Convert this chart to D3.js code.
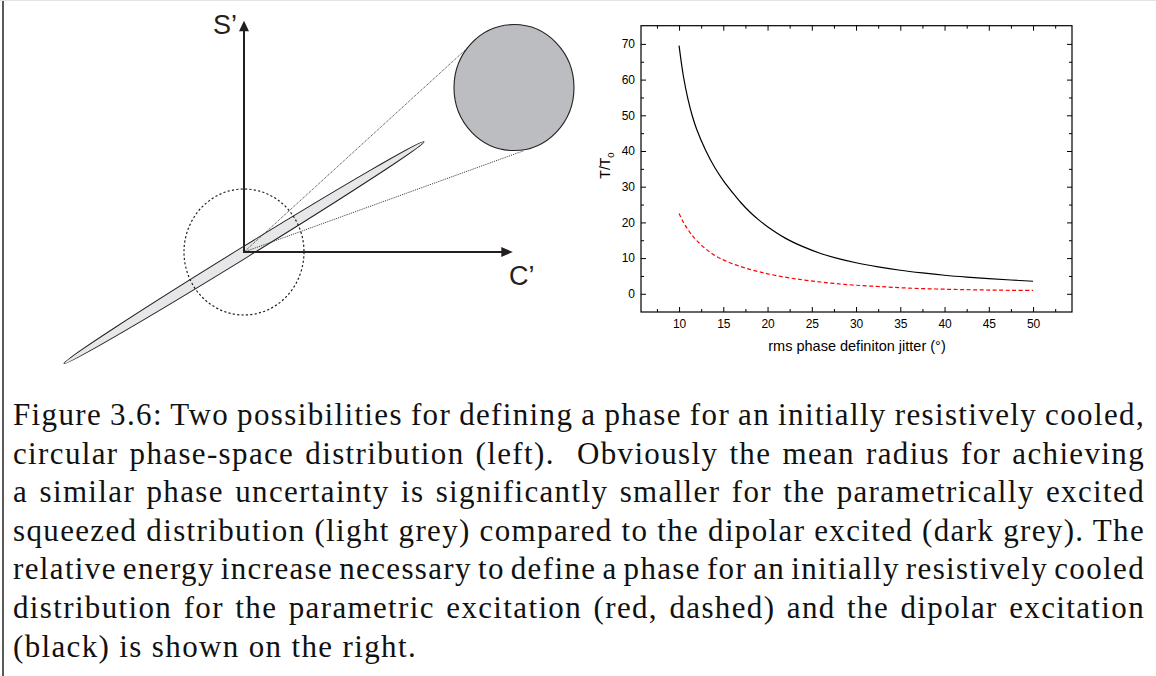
<!DOCTYPE html>
<html>
<head>
<meta charset="utf-8">
<script src="https://cdn.jsdelivr.net/npm/d3@7"></script>
<style>
body { margin: 0; background: #fff; }
</style>
</head>
<body>
<div id="fig"></div>
<script>
// values
var jitter     = [10, 10.5, 11, 11.5, 12, 13, 14, 15, 16, 17, 18, 19, 20, 22, 24, 26, 28, 30, 32.5, 35, 37.5, 40, 42.5, 45, 47.5, 50];
var dipolar    = [69.5, 60.8, 54.6, 49.8, 46.0, 40.2, 35.5, 31.7, 28.5, 25.5, 22.9, 20.7, 18.8, 15.6, 13.2, 11.3, 9.85, 8.7, 7.55, 6.6, 5.85, 5.2, 4.68, 4.25, 3.87, 3.52];
var parametric = [22.5, 20.0, 18.0, 16.3, 14.9, 12.6, 10.8, 9.5, 8.45, 7.6, 6.85, 6.2, 5.6, 4.65, 3.9, 3.3, 2.8, 2.4, 2.05, 1.7, 1.45, 1.28, 1.15, 1.05, 0.98, 0.95];
var xTicks = [10, 15, 20, 25, 30, 35, 40, 45, 50];
var xMinor = [7.5, 12.5, 17.5, 22.5, 27.5, 32.5, 37.5, 42.5, 47.5, 52.5];
var yTicks = [0, 10, 20, 30, 40, 50, 60, 70];
var yMinor = [5, 15, 25, 35, 45, 55, 65];

var captionLines = [
    "Figure 3.6: Two possibilities for defining a phase for an initially resistively cooled,",
    "circular phase-space distribution (left).  Obviously the mean radius for achieving",
    "a similar phase uncertainty is significantly smaller for the parametrically excited",
    "squeezed distribution (light grey) compared to the dipolar excited (dark grey). The",
    "relative energy increase necessary to define a phase for an initially resistively cooled",
    "distribution for the parametric excitation (red, dashed) and the dipolar excitation",
    "(black) is shown on the right."
];

var ink = "#231f20";
var svg = d3.select("#fig")
    .append("svg")
    .attr("width", 1156)
    .attr("height", 676);

// page edge
svg.append("line")
    .attr("x1", 3).attr("x2", 3).attr("y1", 0).attr("y2", 676)
    .attr("stroke", "#222").attr("stroke-width", 1.5);
svg.append("line")
    .attr("x1", 0).attr("x2", 1156).attr("y1", 0.5).attr("y2", 0.5)
    .attr("stroke", "#e4e4e4").attr("stroke-width", 1);

// ---------- left: phase space sketch (units: dashed circle radius = 1)
var sx = d3.scaleLinear().domain([0, 1]).range([244, 304]);
var sy = d3.scaleLinear().domain([0, 1]).range([252, 189]);
var rx = sx(1) - sx(0), ry = sy(0) - sy(1);

var squeezeTips = [[3.0, 1.75], [-3.0, -1.77]];
var squeezeWidth = 5.5;
var bigCircle = [4.5, 2.61];
var coneEnds = [[3.68, 3.2], [4.67, 1.61]];
var sTip = 3.67, cTip = 4.48;

var p1 = [sx(squeezeTips[0][0]), sy(squeezeTips[0][1])],
    p2 = [sx(squeezeTips[1][0]), sy(squeezeTips[1][1])];
var cx = (p1[0] + p2[0]) / 2, cy = (p1[1] + p2[1]) / 2;
var half = Math.hypot(p1[0] - p2[0], p1[1] - p2[1]) / 2;
var ang = Math.atan2(p1[1] - p2[1], p1[0] - p2[0]) * 180 / Math.PI;

svg.append("ellipse")
    .attr("transform", "translate(" + cx + "," + cy + ") rotate(" + ang + ")")
    .attr("rx", half).attr("ry", squeezeWidth)
    .attr("fill", "#e6e7e8").attr("stroke", ink).attr("stroke-width", 1);

svg.append("ellipse")
    .attr("cx", sx(0)).attr("cy", sy(0)).attr("rx", rx).attr("ry", ry)
    .attr("fill", "none").attr("stroke", ink).attr("stroke-width", 1.2)
    .attr("stroke-dasharray", "2.2,2.2");

svg.selectAll(".cone")
    .data(coneEnds)
    .enter()
    .append("line")
    .attr("x1", sx(0)).attr("y1", sy(0))
    .attr("x2", function(d) { return sx(d[0]); })
    .attr("y2", function(d) { return sy(d[1]); })
    .attr("stroke", ink).attr("stroke-width", 0.9)
    .attr("stroke-dasharray", "1,1");

svg.append("ellipse")
    .attr("cx", sx(bigCircle[0])).attr("cy", sy(bigCircle[1])).attr("rx", rx).attr("ry", ry)
    .attr("fill", "#bcbdc0").attr("stroke", ink).attr("stroke-width", 1.1);

// axes with arrow heads
svg.append("line")
    .attr("x1", sx(0)).attr("y1", sy(0)).attr("x2", sx(0)).attr("y2", sy(sTip) + 8)
    .attr("stroke", ink).attr("stroke-width", 2);
svg.append("line")
    .attr("x1", sx(0) - 1).attr("y1", sy(0)).attr("x2", sx(cTip) - 10).attr("y2", sy(0))
    .attr("stroke", ink).attr("stroke-width", 2);
svg.append("path")
    .attr("d", "M" + sx(0) + "," + sy(sTip) + "l5,10.5h-10z")
    .attr("fill", ink);
svg.append("path")
    .attr("d", "M" + sx(cTip) + "," + sy(0) + "l-11.5,-5v10z")
    .attr("fill", ink);

svg.append("text")
    .attr("x", 213).attr("y", 33.5)
    .style("font-family", "Liberation Sans, Arial, sans-serif")
    .style("font-size", "27px")
    .attr("fill", ink)
    .text("S\u2019");
svg.append("text")
    .attr("x", 509).attr("y", 285)
    .style("font-family", "Liberation Sans, Arial, sans-serif")
    .style("font-size", "27px")
    .attr("fill", ink)
    .text("C\u2019");

// ---------- right: T/T0 versus jitter
var x = d3.scaleLinear().domain([5.7, 54.4]).range([641, 1072]);
var y = d3.scaleLinear().domain([-5.1, 75.1]).range([312, 25.7]);
var font = "Liberation Sans, Arial, sans-serif";

function styleAxis(g) {
    g.select(".domain").remove();
    g.selectAll("line").attr("stroke", "#000").attr("stroke-width", 1);
    g.selectAll("text").attr("fill", "#000").style("font-family", font).style("font-size", "12px");
}

svg.append("g").attr("transform", "translate(0,312)")
    .call(d3.axisBottom(x).tickValues(xTicks).tickSizeInner(-5).tickSizeOuter(0).tickPadding(7))
    .call(styleAxis);
svg.append("g").attr("transform", "translate(0,312)")
    .call(d3.axisBottom(x).tickValues(xMinor).tickSizeInner(-3).tickSizeOuter(0).tickFormat(""))
    .call(styleAxis);
svg.append("g").attr("transform", "translate(0,25.7)")
    .call(d3.axisTop(x).tickValues(xTicks).tickSizeInner(-5).tickSizeOuter(0).tickFormat(""))
    .call(styleAxis);
svg.append("g").attr("transform", "translate(0,25.7)")
    .call(d3.axisTop(x).tickValues(xMinor).tickSizeInner(-3).tickSizeOuter(0).tickFormat(""))
    .call(styleAxis);
svg.append("g").attr("transform", "translate(641,0)")
    .call(d3.axisLeft(y).tickValues(yTicks).tickSizeInner(-5).tickSizeOuter(0).tickPadding(6))
    .call(styleAxis);
svg.append("g").attr("transform", "translate(641,0)")
    .call(d3.axisLeft(y).tickValues(yMinor).tickSizeInner(-3).tickSizeOuter(0).tickFormat(""))
    .call(styleAxis);
svg.append("g").attr("transform", "translate(1072,0)")
    .call(d3.axisRight(y).tickValues(yTicks).tickSizeInner(-5).tickSizeOuter(0).tickFormat(""))
    .call(styleAxis);
svg.append("g").attr("transform", "translate(1072,0)")
    .call(d3.axisRight(y).tickValues(yMinor).tickSizeInner(-3).tickSizeOuter(0).tickFormat(""))
    .call(styleAxis);

svg.append("rect")
    .attr("x", x.range()[0]).attr("y", y.range()[1])
    .attr("width", x.range()[1] - x.range()[0])
    .attr("height", y.range()[0] - y.range()[1])
    .attr("fill", "none").attr("stroke", "#000").attr("stroke-width", 1.2);

var line = d3.line()
    .x(function(d, i) { return x(jitter[i]); })
    .y(function(d) { return y(d); })
    .curve(d3.curveCatmullRom.alpha(0.5));

svg.append("path")
    .datum(dipolar)
    .attr("d", line)
    .attr("fill", "none").attr("stroke", "#000").attr("stroke-width", 1.2);
svg.append("path")
    .datum(parametric)
    .attr("d", line)
    .attr("fill", "none").attr("stroke", "#ff0000").attr("stroke-width", 1.2)
    .attr("stroke-dasharray", "4,2.5");

svg.append("text")
    .attr("x", 857).attr("y", 350.5)
    .attr("text-anchor", "middle")
    .style("font-family", font).style("font-size", "14.5px")
    .text("rms phase definiton jitter (\u00b0)");

var yt = svg.append("text")
    .attr("transform", "translate(610,165.5) rotate(-90)")
    .attr("text-anchor", "middle")
    .style("font-family", font).style("font-size", "14px");
yt.append("tspan").text("T/T");
yt.append("tspan").attr("dy", 4).style("font-size", "9.5px").text("0");

// ---------- caption, justified
var capLeft = 13, capRight = 1145, lastRight = 417;
var cap = svg.selectAll(".cap")
    .data(captionLines)
    .enter()
    .append("text")
    .attr("x", capLeft)
    .attr("y", function(d, i) { return 425 + i * 38.6; })
    .style("font-family", "Liberation Serif, Times New Roman, serif")
    .style("font-size", "31px")
    .style("white-space", "pre")
    .attr("fill", "#111")
    .text(function(d) { return d; });

// widen letters a little so the short last line ends where the reference's does
var lastNode = cap.nodes()[captionLines.length - 1];
var lastText = captionLines[captionLines.length - 1];
var track = (lastRight - capLeft - lastNode.getComputedTextLength()) / lastText.length;
cap.attr("letter-spacing", track);

cap.each(function(d, i) {
    if (i == captionLines.length - 1) return;
    var w = this.getComputedTextLength();
    var spaces = d.split(" ").length - 1;
    d3.select(this).attr("word-spacing", (capRight - capLeft - w) / spaces);
});
</script>
</body>
</html>
